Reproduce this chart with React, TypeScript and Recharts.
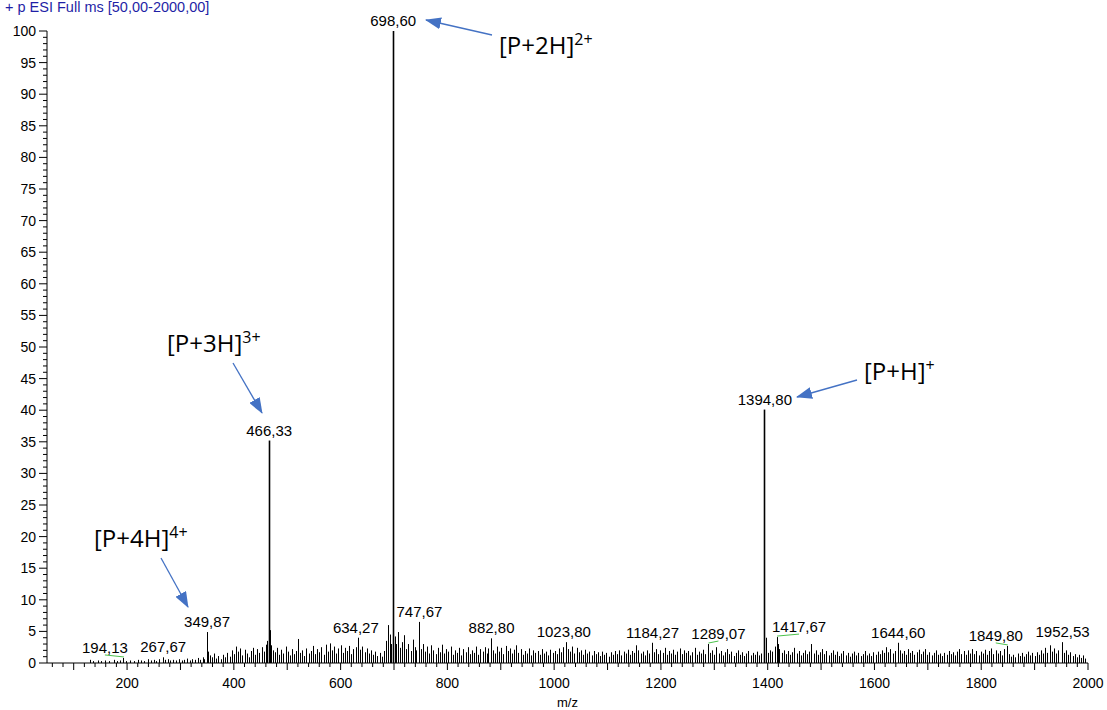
import React from "react";
import { Bar, ComposedChart, LabelList, XAxis, YAxis } from "recharts";

// labelled peaks (m/z, relative abundance %)
const peakMz = [194.13, 267.67, 349.87, 466.33, 634.27, 698.6, 747.67, 882.8, 1023.8, 1184.27, 1289.07, 1394.8, 1417.67, 1644.6, 1849.8, 1952.53];
const peakIntensity = [0.8, 0.9, 4.9, 35.2, 4.0, 100, 6.5, 3.9, 3.3, 3.2, 3.0, 40.1, 4.1, 3.2, 2.7, 3.3];
const peakLabels = ["194,13", "267,67", "349,87", "466,33", "634,27", "698,60", "747,67", "882,80", "1023,80", "1184,27", "1289,07", "1394,80", "1417,67", "1644,60", "1849,80", "1952,53"];

// unlabelled background sticks [m/z, %]
const noise: [number, number][] = [
    [131, 0.5], [138, 0.3], [146, 0.4], [152, 0.3], [160, 0.4], [168, 0.3], [176, 0.5], [183, 0.3], [188, 0.4], [199, 0.3],
    [206, 0.4], [214, 0.3], [222, 0.5], [228, 0.4], [233, 0.3], [240, 0.6], [246, 0.4], [251, 0.5], [256, 0.3], [261, 0.6],
    [272, 0.5], [277, 0.6], [282, 0.4], [287, 0.5], [292, 0.4], [298, 0.6], [303, 0.4], [308, 0.5], [313, 0.7], [318, 0.4],
    [323, 0.6], [328, 0.5], [333, 0.8], [338, 0.5], [343, 0.9], [346, 0.6],
    [352, 1.8], [356, 1.2], [360, 0.9], [364, 1.5], [368, 0.7], [372, 1.1], [377, 0.6], [381, 1.3], [385, 0.9], [389, 1.6],
    [393, 1.0], [397, 2.0], [401, 1.4], [405, 2.6], [409, 1.8], [413, 2.3], [417, 1.2], [421, 2.1], [425, 1.5], [429, 0.9],
    [433, 1.9], [437, 2.4], [441, 1.3], [445, 2.2], [449, 1.6], [453, 2.5], [457, 1.8], [461, 2.9], [463, 3.5], [468, 5.2],
    [471, 2.8], [474, 2.0], [478, 1.7], [482, 2.4], [486, 1.3], [490, 2.1], [494, 1.5], [498, 2.6], [502, 1.8], [506, 1.2],
    [510, 2.2], [514, 1.4], [518, 1.9], [521, 3.8], [525, 1.6], [529, 2.0], [533, 1.1], [537, 2.3], [541, 1.5], [545, 1.9],
    [549, 2.7], [553, 1.4], [557, 2.2], [561, 1.7], [565, 2.5], [569, 1.3], [573, 2.9], [577, 1.8], [581, 3.1], [585, 2.0],
    [589, 2.6], [593, 1.5], [597, 2.3], [601, 2.8], [605, 1.6], [609, 2.4], [613, 1.9], [617, 2.7], [621, 1.4], [625, 2.2],
    [629, 2.5], [638, 2.1], [642, 2.6], [646, 1.7], [650, 2.3], [654, 1.5], [658, 2.0], [662, 1.3], [666, 1.8], [670, 1.1],
    [674, 1.6], [678, 1.0], [682, 1.9], [686, 3.5], [690, 6.0], [693, 4.5], [695, 3.0], [702, 4.2], [705, 3.0], [708, 4.9],
    [712, 2.4], [716, 3.3], [720, 4.4], [724, 2.2], [728, 3.0], [732, 1.9], [736, 3.7], [740, 2.5], [743, 2.0], [751, 2.2],
    [755, 3.0], [759, 1.8], [763, 2.6], [767, 1.5], [771, 2.8], [775, 2.0], [779, 1.4], [783, 2.4], [787, 1.7], [791, 2.9],
    [795, 1.5], [799, 2.2], [803, 1.8], [807, 2.6], [811, 1.3], [815, 2.0], [819, 1.6], [823, 2.4], [827, 1.2], [831, 2.2],
    [835, 1.7], [839, 2.5], [843, 1.4], [847, 2.0], [851, 1.6], [855, 2.6], [859, 1.3], [863, 2.2], [867, 1.8], [871, 2.5],
    [875, 1.5], [878, 2.3], [886, 2.0], [890, 1.5], [894, 2.6], [898, 1.8], [902, 2.4], [906, 1.4], [910, 2.7], [914, 1.9],
    [918, 2.3], [922, 1.5], [926, 2.1], [930, 2.8], [934, 1.6], [938, 2.2], [942, 1.3], [946, 1.9], [950, 1.5], [954, 2.3],
    [958, 1.2], [962, 2.0], [966, 1.6], [970, 1.9], [974, 1.3], [978, 2.2], [982, 1.5], [986, 1.8], [990, 1.2], [994, 2.1],
    [998, 1.6], [1002, 1.9], [1006, 1.4], [1010, 2.3], [1014, 1.7], [1018, 2.5], [1027, 2.2], [1031, 1.8], [1035, 2.6], [1039, 1.5],
    [1043, 2.4], [1047, 1.7], [1051, 2.0], [1055, 1.3], [1059, 2.1], [1063, 1.5], [1067, 1.8], [1071, 1.2], [1075, 1.9], [1079, 1.4],
    [1083, 1.7], [1087, 1.1], [1091, 1.8], [1095, 1.3], [1099, 1.6], [1103, 1.0], [1107, 1.7], [1111, 1.3], [1115, 1.9], [1119, 1.4],
    [1123, 2.0], [1127, 1.2], [1131, 1.8], [1135, 1.5], [1139, 2.1], [1143, 1.3], [1147, 1.9], [1151, 1.6], [1155, 2.8], [1159, 2.0],
    [1163, 1.5], [1167, 1.8], [1171, 1.2], [1175, 2.0], [1179, 1.5], [1188, 1.7], [1192, 2.2], [1196, 1.4], [1200, 2.0], [1204, 1.6],
    [1208, 2.4], [1212, 1.3], [1216, 1.9], [1220, 1.5], [1224, 2.1], [1228, 1.3], [1232, 1.8], [1236, 2.3], [1240, 1.4], [1244, 2.0],
    [1248, 1.6], [1252, 1.9], [1256, 1.2], [1260, 1.7], [1264, 2.4], [1268, 1.3], [1272, 1.8], [1276, 1.5], [1280, 2.1], [1284, 1.4],
    [1293, 1.6], [1297, 2.0], [1301, 1.3], [1305, 2.5], [1309, 1.5], [1313, 1.9], [1317, 1.2], [1321, 1.7], [1325, 2.2], [1329, 1.4],
    [1333, 1.8], [1337, 1.1], [1341, 1.6], [1345, 2.0], [1349, 1.3], [1353, 1.7], [1357, 1.1], [1361, 1.5], [1365, 1.9], [1369, 1.2],
    [1373, 1.6], [1377, 1.3], [1381, 1.8], [1385, 1.2], [1389, 1.5], [1398, 4.0], [1402, 1.6], [1406, 2.0], [1410, 1.8], [1414, 2.6],
    [1420, 3.0], [1423, 2.2], [1427, 1.6], [1431, 2.0], [1435, 1.4], [1439, 1.9], [1443, 1.3], [1447, 1.7], [1451, 2.4], [1455, 1.5],
    [1459, 1.9], [1463, 1.2], [1467, 1.6], [1471, 2.0], [1475, 1.4], [1479, 1.8], [1483, 3.0], [1487, 1.5], [1491, 2.0], [1495, 1.3],
    [1499, 1.7], [1503, 2.2], [1507, 1.4], [1511, 1.9], [1515, 1.2], [1519, 1.6], [1523, 2.0], [1527, 1.3], [1531, 1.8], [1535, 1.1],
    [1539, 1.5], [1543, 1.9], [1547, 1.2], [1551, 1.6], [1555, 1.0], [1559, 1.5], [1563, 1.8], [1567, 1.2], [1571, 1.6], [1575, 1.1],
    [1579, 1.4], [1583, 1.9], [1587, 1.2], [1591, 1.5], [1595, 1.1], [1599, 1.7], [1603, 1.3], [1607, 1.8], [1611, 1.4], [1615, 2.0],
    [1619, 1.6], [1623, 2.5], [1627, 1.7], [1631, 2.2], [1635, 1.5], [1639, 1.9], [1648, 2.0], [1652, 1.5], [1656, 1.9], [1660, 1.3],
    [1664, 2.2], [1668, 1.6], [1672, 1.9], [1676, 1.3], [1680, 1.7], [1684, 2.1], [1688, 1.4], [1692, 1.8], [1696, 2.2], [1700, 1.3],
    [1704, 1.7], [1708, 1.2], [1712, 1.6], [1716, 2.0], [1720, 1.3], [1724, 1.5], [1728, 1.1], [1732, 1.6], [1736, 1.3], [1740, 1.9],
    [1744, 1.4], [1748, 1.7], [1752, 1.2], [1756, 1.8], [1760, 2.2], [1764, 1.4], [1768, 1.9], [1772, 1.3], [1776, 2.0], [1780, 1.5],
    [1784, 2.2], [1788, 1.4], [1792, 1.9], [1796, 1.2], [1800, 1.8], [1804, 1.5], [1808, 2.1], [1812, 1.3], [1816, 1.9], [1820, 2.3],
    [1824, 1.4], [1828, 2.0], [1832, 1.5], [1836, 1.9], [1840, 1.2], [1844, 2.2], [1853, 1.4], [1857, 1.0], [1861, 1.3], [1865, 0.9],
    [1869, 1.5], [1873, 1.1], [1877, 1.6], [1881, 1.0], [1885, 1.4], [1889, 1.8], [1893, 1.2], [1897, 1.6], [1901, 1.1], [1905, 1.7],
    [1909, 1.3], [1913, 2.0], [1917, 1.5], [1921, 2.4], [1925, 1.6], [1929, 2.8], [1933, 1.8], [1937, 2.3], [1941, 1.5], [1945, 2.0],
    [1956, 1.6], [1960, 2.0], [1964, 1.3], [1968, 1.7], [1972, 1.1], [1976, 1.4], [1980, 0.9], [1984, 1.3], [1988, 0.8], [1992, 1.2],
    [1996, 0.7],
];

const xLabelTicks = [200, 400, 600, 800, 1000, 1200, 1400, 1600, 1800, 2000];
const yLabelTicks = [0, 5, 10, 15, 20, 25, 30, 35, 40, 45, 50, 55, 60, 65, 70, 75, 80, 85, 90, 95, 100];

// minor tick marks every 20 m/z and every 1 %
const xTicks: number[] = [];
for (let v = 60; v <= 2000; v += 20) xTicks.push(v);
const yTicks: number[] = [];
for (let v = 0; v <= 100; v += 1) yTicks.push(v);

// labels that sit beside their peak instead of on top
const labelNudge: Record<string, number> = { "194,13": -19, "634,27": -3, "1023,80": -3, "1289,07": 10, "1417,67": 22, "1849,80": -12 };

const rows = [
    ...noise.map(([mz, intensity]) => ({ mz, intensity, label: undefined as string | undefined })),
    ...peakMz.map((mz, i) => ({ mz, intensity: peakIntensity[i], label: peakLabels[i] })),
].sort((a, b) => a.mz - b.mz);

const FONT = "'Liberation Sans', Arial, sans-serif";
const ANNO = "'Open Sans', 'Noto Sans', sans-serif";
const BLUE = "#4472c4";

const XTick = (props: any) => {
    const { x, y, payload } = props;
    const v = payload.value;
    const len = v % 100 === 0 ? 7 : 4;
    return (
        <g>
            <line x1={x} y1={y} x2={x} y2={y + len} stroke="#000" strokeWidth={1} />
            {xLabelTicks.includes(v) && (
                <text x={x} y={y + 25} textAnchor="middle" fontSize={14} fontFamily={FONT} fill="#000">
                    {v}
                </text>
            )}
        </g>
    );
};

const YTick = (props: any) => {
    const { x, y, payload } = props;
    const v = payload.value;
    const major = yLabelTicks.includes(v);
    return (
        <g>
            <line x1={x} y1={y} x2={x - (major ? 8 : 4)} y2={y} stroke="#000" strokeWidth={1} />
            {major && (
                <text x={x - 11} y={y + 5} textAnchor="end" fontSize={14} fontFamily={FONT} fill="#000">
                    {v}
                </text>
            )}
        </g>
    );
};

// one stick per data row, snapped to the pixel grid so it stays solid black
const Stick = (props: any) => {
    const { x, y, width, height, payload } = props;
    if (!height || height <= 0) return null;
    const cx = Math.floor(Number(x) + Number(width) / 2) + 0.5;
    const big = payload && payload.intensity > 10;
    return <line x1={cx} y1={y} x2={cx} y2={Number(y) + Number(height)} stroke="#000" strokeWidth={big ? 1.6 : 1} />;
};

const PeakLabel = (props: any) => {
    const { x, y, width, value } = props;
    if (value == null || value === "") return null;
    const cx = Number(x) + Number(width) / 2;
    const top = Number(y);
    const nudge = labelNudge[value] ?? 0;
    return (
        <g>
            {Math.abs(nudge) > 5 && (
                <line x1={cx} y1={top - 1} x2={cx + nudge} y2={top - 3} stroke="#4cc24c" strokeWidth={1} />
            )}
            <text x={cx + nudge} y={top - 5} textAnchor="middle" fontSize={15} fontFamily={FONT} fill="#000">
                {value}
            </text>
        </g>
    );
};

const Callout = ({ x, y, base, sup, from, to }: { x: number; y: number; base: string; sup: string; from: [number, number]; to: [number, number] }) => (
    <g>
        <text x={x} y={y} fontSize={24} fontFamily={ANNO} fill="#000">
            {base}
            <tspan dy={-9} fontSize={16}>{sup}</tspan>
        </text>
        <line x1={from[0]} y1={from[1]} x2={to[0]} y2={to[1]} stroke={BLUE} strokeWidth={1.3} markerEnd="url(#arrowHead)" />
    </g>
);

export default function App() {
    return (
        <div style={{ position: "absolute", left: 0, top: 0, width: 1107, height: 710, background: "#fff" }}>
            <ComposedChart width={1107} height={710} data={rows} margin={{ top: 31, right: 19, bottom: 0, left: 0 }}>
                <XAxis
                    dataKey="mz"
                    type="number"
                    domain={[50, 2000]}
                    allowDataOverflow
                    ticks={xTicks}
                    interval={0}
                    tick={<XTick />}
                    tickLine={false}
                    tickSize={0}
                    tickMargin={0}
                    axisLine={{ stroke: "#000" }}
                    height={47}
                    label={{ value: "m/z", position: "insideBottom", offset: 3, fontSize: 13, fill: "#000", fontFamily: FONT }}
                />
                <YAxis
                    type="number"
                    domain={[0, 100]}
                    allowDataOverflow
                    ticks={yTicks}
                    interval={0}
                    tick={<YTick />}
                    tickLine={false}
                    tickSize={0}
                    tickMargin={0}
                    axisLine={{ stroke: "#000" }}
                    width={47}
                />
                <Bar dataKey="intensity" barSize={1} shape={<Stick />} isAnimationActive={false}>
                    <LabelList dataKey="label" content={<PeakLabel />} />
                </Bar>
            </ComposedChart>
            <svg width={1107} height={710} style={{ position: "absolute", left: 0, top: 0, pointerEvents: "none" }}>
                <defs>
                    <marker id="arrowHead" markerUnits="userSpaceOnUse" markerWidth={16} markerHeight={12} refX={15} refY={6} orient="auto">
                        <path d="M0,0 L16,6 L0,12 z" fill={BLUE} />
                    </marker>
                </defs>
                <text x={5} y={12} fontSize={14.5} fontFamily={FONT} fill="#1f1fa6">
                    + p ESI Full ms [50,00-2000,00]
                </text>
                <Callout x={499} y={54} base="[P+2H]" sup="2+" from={[492, 35]} to={[426, 20]} />
                <Callout x={864} y={380} base="[P+H]" sup="+" from={[857, 380]} to={[797, 397]} />
                <Callout x={167} y={352} base="[P+3H]" sup="3+" from={[233, 363]} to={[262, 413]} />
                <Callout x={94} y={547} base="[P+4H]" sup="4+" from={[161, 558]} to={[188, 607]} />
            </svg>
        </div>
    );
}
